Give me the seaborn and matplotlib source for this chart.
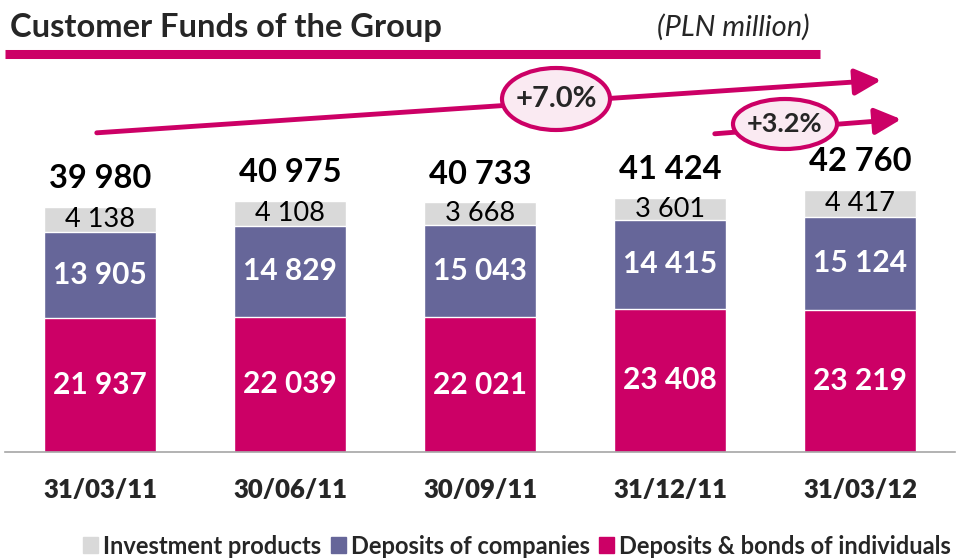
import matplotlib
matplotlib.use("Agg")
import matplotlib.pyplot as plt
import seaborn as sns
import pandas as pd
from matplotlib.patches import Patch, Ellipse

# values (PLN million)
dates = ["31/03/11", "30/06/11", "30/09/11", "31/12/11", "31/03/12"]
individuals = [21937, 22039, 22021, 23408, 23219]
companies = [13905, 14829, 15043, 14415, 15124]
investment = [4138, 4108, 3668, 3601, 4417]
totals = [39980, 40975, 40733, 41424, 42760]
growth_labels = ["+7.0%", "+3.2%"]

PINK = "#CC0066"
PURPLE = "#666699"
GREY = "#D9D9D9"
W, H = 971, 559


def fmt(v):
    return f"{v:,}".replace(",", " ")


df = pd.DataFrame({"date": dates, "ind": individuals, "comp": companies, "inv": investment})
df["ind_comp"] = df["ind"] + df["comp"]
df["all"] = df["ind_comp"] + df["inv"]

sns.set_style("white")
plt.rcParams["font.family"] = ["Lato", "DejaVu Sans"]

fig = plt.figure(figsize=(W / 100, H / 100), dpi=100)
ax = fig.add_axes([5 / W, (H - 452) / H, 950 / W, 392 / H])

# stacked bars: draw cumulative heights back to front
sns.barplot(data=df, x="date", y="all", color=GREY, width=0.59, saturation=1, ax=ax)
sns.barplot(data=df, x="date", y="ind_comp", color=PURPLE, width=0.59, saturation=1, ax=ax)
sns.barplot(data=df, x="date", y="ind", color=PINK, width=0.59, saturation=1, ax=ax)

ax.set_xlim(-0.5, 4.5)
ax.set_ylim(0, 63950)
ax.set_xlabel("")
ax.set_ylabel("")
ax.set_yticks([])
ax.set_xticks(range(len(dates)), dates, fontsize=18.5, fontweight="heavy")
for s in ["left", "right", "top"]:
    ax.spines[s].set_visible(False)
ax.spines["bottom"].set_color("#A6A6A6")
ax.spines["bottom"].set_linewidth(1.2)
ax.tick_params(axis="x", length=0, pad=19)

for i in range(len(dates)):
    ind, comp, inv = individuals[i], companies[i], investment[i]
    ax.text(i, ind / 2, fmt(ind), ha="center", va="center", color="white",
            fontsize=21.5, fontweight="bold")
    ax.text(i, ind + comp / 2, fmt(comp), ha="center", va="center", color="white",
            fontsize=21.5, fontweight="bold")
    ax.text(i, ind + comp + inv / 2, fmt(inv), ha="center", va="center", color="black",
            fontsize=19.5)
    ax.text(i, ind + comp + inv + 4600, fmt(totals[i]), ha="center", va="center",
            color="black", fontsize=23.5, fontweight="bold")

# title and underline
fig.text(10 / W, 1 - 27 / H, "Customer Funds of the Group", ha="left", va="center",
         fontsize=23.5, fontweight="bold")
fig.text(810 / W, 1 - 27 / H, "(PLN million)", ha="right", va="center",
         fontsize=21, style="italic")
fig.add_artist(plt.Line2D([5 / W, 820 / W], [1 - 54 / H, 1 - 54 / H], color=PINK,
                          lw=6.5, solid_capstyle="butt"))

# growth arrows with ellipse badges
arrows = [((94, 133), (884, 80), (556, 99), 108, 62, 21),
          ((712, 134), (904, 119), (785, 124), 104, 50, 19.5)]
for (start, end, centre, ew, eh, fs), txt in zip(arrows, growth_labels):
    ax.annotate("", xy=(end[0], H - end[1]), xytext=(start[0], H - start[1]),
                xycoords="figure pixels", textcoords="figure pixels",
                arrowprops=dict(arrowstyle="-|>,head_length=0.8,head_width=0.4",
                                color=PINK, lw=3.5, mutation_scale=20),
                annotation_clip=False)
    fig.add_artist(Ellipse((centre[0] / W, 1 - centre[1] / H), ew / W, eh / H,
                           transform=fig.transFigure, facecolor="#FAEAF2",
                           edgecolor=PINK, lw=3))
    fig.text(centre[0] / W, 1 - centre[1] / H, txt, ha="center", va="center",
             fontsize=fs, fontweight="bold")

handles = [Patch(color=GREY, label="Investment products"),
           Patch(color=PURPLE, label="Deposits of companies"),
           Patch(color=PINK, label="Deposits & bonds of individuals")]
leg = fig.legend(handles=handles, loc="center", bbox_to_anchor=(517 / W, 1 - 546 / H),
                 ncol=3, frameon=False, handlelength=0.65, handleheight=0.65,
                 handletextpad=0.2, columnspacing=0.4, borderaxespad=0,
                 prop={"weight": "bold", "size": 17})

fig.savefig("out.png", dpi=100)
